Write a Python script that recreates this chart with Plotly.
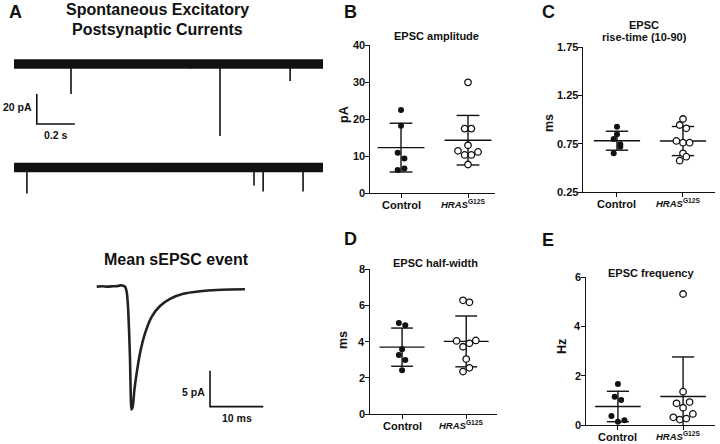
import numpy as np
import plotly.graph_objects as go

# ---------------- data ----------------
group_labels = ["Control", "<i>HRAS</i><sup>G12S</sup>"]

amp_control = [22.4, 18.2, 10.9, 9.3, 6.2, 6.6]
amp_hras = [29.9, 17.4, 17.4, 12.9, 11.4, 10.3, 10.3, 11.1, 7.7]
rise_control = [0.926, 0.847, 0.798, 0.743, 0.719, 0.650]
rise_hras = [1.005, 0.943, 0.909, 0.778, 0.760, 0.760, 0.650, 0.615, 0.574]
hw_control = [5.02, 4.89, 3.57, 3.26, 2.98, 2.41]
hw_hras = [6.27, 6.16, 4.03, 4.06, 3.90, 3.71, 3.03, 2.34, 2.55]
freq_control = [1.66, 1.15, 1.01, 0.36, 0.13, 0.19]
freq_hras = [5.31, 1.35, 0.88, 0.93, 0.70, 0.45, 0.31, 0.22, 0.26]

amp_ticks = [0, 10, 20, 30, 40]
rise_ticks = [0.25, 0.75, 1.25, 1.75]
hw_ticks = [0, 2, 4, 6, 8]
freq_ticks = [0, 2, 4, 6]

# horizontal scatter offsets (style)
amp_jit_c = [0, 0, -0.05, 0.05, -0.05, 0.05]
amp_jit_h = [0, -0.05, 0.05, 0, -0.15, -0.05, 0.05, 0.15, 0]
rise_jit_c = [0, 0, -0.05, 0.05, 0.05, -0.05]
rise_jit_h = [0, -0.05, 0.05, -0.1, 0, 0.1, 0, 0.05, -0.05]
hw_jit_c = [-0.05, 0.05, 0, -0.05, 0.05, 0]
hw_jit_h = [-0.05, 0.05, -0.15, 0.15, 0.05, -0.05, 0, -0.05, 0.05]
freq_jit_c = [0, -0.05, 0.05, -0.1, 0, 0.1]
freq_jit_h = [0, 0, -0.1, 0.1, 0, 0.15, -0.15, -0.05, 0.05]

# spontaneous EPSC sweeps (s, pA)
sweep_duration = 1.626
sweep1_event_t = [0.300, 0.930, 1.084, 1.453]
sweep1_event_amp = [20.0, 3.0, 48.0, 11.3]
sweep2_event_t = [0.068, 0.740, 1.263, 1.311, 1.521]
sweep2_event_amp = [17.3, 2.5, 12.0, 16.0, 16.0]
sweep2_offset = -69.0
scale1_t, scale1_i, scale1_dt, scale1_di = 0.12, -40.0, 0.2, 20.0

# mean sEPSC event (ms, pA)
event_t = [0, 1, 2, 3, 4, 4.6, 5.0, 5.31, 5.62, 5.87, 6.06, 6.25, 6.37, 6.5,
           6.75, 7.06, 7.5, 8.12, 9.06, 10.3, 11.87, 13.75, 16.25, 19.4, 22.5,
           25.0, 27.8]
event_i = [0, 0.05, 0, 0.05, 0.1, 0.2, 0.1, 0, -0.7, -2.8, -6.0, -10.2, -14.8,
           -17.1, -16.7, -14.4, -12.0, -9.26, -6.5, -4.2, -2.7, -1.7, -1.0,
           -0.65, -0.46, -0.4, -0.37]
scale2_t, scale2_i, scale2_dt, scale2_di = 21.25, -16.7, 10.0, 5.0

W, H = 720, 444
FONT = "Liberation Sans, Arial, sans-serif"
INK = "#111111"


def px(x):
    return x / W


def py(y):
    return 1 - y / H


fig = go.Figure()


def add_group(values, jit, center, filled, xa, ya):
    v = np.array(values, dtype=float)
    m = v.mean()
    s = v.std(ddof=1)
    hw, cw = 0.35, 0.17
    xs = [center - hw, center + hw, None,
          center - cw, center + cw, None,
          center - cw, center + cw, None,
          center, center]
    ys = [m, m, None, m + s, m + s, None, m - s, m - s, None, m - s, m + s]
    fig.add_trace(go.Scatter(x=xs, y=ys, mode="lines", xaxis=xa, yaxis=ya,
                             line=dict(color=INK, width=1.4),
                             hoverinfo="skip", showlegend=False))
    xpts = [center + j for j in jit]
    fig.add_trace(go.Scatter(
        x=xpts, y=values, mode="markers", xaxis=xa, yaxis=ya,
        marker=dict(size=6.5 if not filled else 6,
                    color=INK if filled else "white",
                    line=dict(color=INK, width=1.3 if not filled else 0)),
        showlegend=False, cliponaxis=False))


panels = [
    (amp_control, amp_jit_c, amp_hras, amp_jit_h, "x", "y"),
    (rise_control, rise_jit_c, rise_hras, rise_jit_h, "x2", "y2"),
    (hw_control, hw_jit_c, hw_hras, hw_jit_h, "x3", "y3"),
    (freq_control, freq_jit_c, freq_hras, freq_jit_h, "x4", "y4"),
]
for c, jc, h, jh, xa, ya in panels:
    add_group(c, jc, 1, True, xa, ya)
    add_group(h, jh, 2, False, xa, ya)

# ----- sweeps -----
for base, ts, amps in [(0.0, sweep1_event_t, sweep1_event_amp),
                       (sweep2_offset, sweep2_event_t, sweep2_event_amp)]:
    fig.add_trace(go.Scatter(x=[0, sweep_duration], y=[base, base], mode="lines",
                             xaxis="x5", yaxis="y5",
                             line=dict(color=INK, width=9.5),
                             hoverinfo="skip", showlegend=False))
    xs, ys = [], []
    for t, a in zip(ts, amps):
        xs += [t, t, None]
        ys += [base, base - a, None]
    fig.add_trace(go.Scatter(x=xs, y=ys, mode="lines", xaxis="x5", yaxis="y5",
                             line=dict(color=INK, width=1.6),
                             hoverinfo="skip", showlegend=False))

fig.add_trace(go.Scatter(
    x=[scale1_t, scale1_t, scale1_t + scale1_dt],
    y=[scale1_i + scale1_di, scale1_i, scale1_i],
    mode="lines", xaxis="x5", yaxis="y5",
    line=dict(color=INK, width=1.6), hoverinfo="skip", showlegend=False))

# ----- mean event -----
fig.add_trace(go.Scatter(x=event_t, y=event_i, mode="lines", xaxis="x6", yaxis="y6",
                         line=dict(color="#222222", width=2.6, shape="spline",
                                   smoothing=0.6),
                         hoverinfo="skip", showlegend=False))
fig.add_trace(go.Scatter(
    x=[scale2_t, scale2_t, scale2_t + scale2_dt],
    y=[scale2_i + scale2_di, scale2_i, scale2_i],
    mode="lines", xaxis="x6", yaxis="y6",
    line=dict(color=INK, width=1.6), hoverinfo="skip", showlegend=False))

# ----- axes -----


def cat_axis(domain, rng):
    return dict(domain=domain, range=rng, tickvals=[1, 2], showticklabels=False,
                showline=True, linecolor=INK, linewidth=1.3, ticks="outside",
                ticklen=4, tickwidth=1.3, tickcolor=INK, showgrid=False,
                zeroline=False, fixedrange=True)


def val_axis(domain, rng, tickvals):
    return dict(domain=domain, range=rng, tickvals=tickvals, showline=True,
                showticklabels=False,
                linecolor=INK, linewidth=1.3, ticks="outside", ticklen=4,
                tickwidth=1.3, tickcolor=INK, showgrid=False, zeroline=False,
                fixedrange=True)


hidden = dict(visible=False, showgrid=False, zeroline=False, fixedrange=True)

fig.update_layout(
    width=W, height=H, margin=dict(l=0, r=0, t=0, b=0),
    paper_bgcolor="white", plot_bgcolor="white", showlegend=False,
    xaxis=dict(cat_axis([px(370), px(495)], [0.537, 2.403]), anchor="y"),
    yaxis=dict(val_axis([py(193), py(45)], [0, 40], amp_ticks), anchor="x"),
    xaxis2=dict(cat_axis([px(583), px(715)], [0.485, 2.485]), anchor="y2"),
    yaxis2=dict(val_axis([py(192), py(47)], [0.25, 1.75], rise_ticks), anchor="x2"),
    xaxis3=dict(cat_axis([px(370), px(497)], [0.5, 2.48]), anchor="y3"),
    yaxis3=dict(val_axis([py(414), py(269)], [0, 8], hw_ticks), anchor="x3"),
    xaxis4=dict(cat_axis([px(586), px(715)], [0.51, 2.49]), anchor="y4"),
    yaxis4=dict(val_axis([py(425), py(277)], [0, 6], freq_ticks), anchor="x4"),
    xaxis5=dict(hidden, domain=[px(14), px(323)], range=[0, sweep_duration], anchor="y5"),
    yaxis5=dict(hidden, domain=[py(200), py(40)], range=[-90.67, 16], anchor="x5"),
    xaxis6=dict(hidden, domain=[px(90), px(270)], range=[-1.26, 32.5], anchor="y6"),
    yaxis6=dict(hidden, domain=[py(430), py(270)], range=[-19.96, 2.32], anchor="x6"),
)

ann = []


def note(text, x, y, size, **kw):
    d = dict(text=text, x=x, y=y, xref="paper", yref="paper", showarrow=False,
             font=dict(family=FONT, size=size, color=INK, weight="bold"),
             xanchor="center", yanchor="middle")
    d.update(kw)
    ann.append(d)


# panel letters
for letter, x, y in [("A", 15, 12), ("B", 350, 12), ("C", 548, 12),
                     ("D", 350, 239), ("E", 548, 240)]:
    note(letter, px(x), py(y), 18)

note("Spontaneous Excitatory", px(157), py(10), 16)
note("Postsynaptic Currents", px(157), py(29), 16)
note("Mean sEPSC event", px(176), py(259), 16)

note("EPSC amplitude", px(437), py(36), 11)
note("EPSC", px(644), py(25), 11)
note("rise-time (10-90)", px(644), py(37), 11)
note("EPSC half-width", px(435), py(263), 11)
note("EPSC frequency", px(651), py(273), 11)

note("pA", px(344), py(115), 12.5, textangle=-90)
note("ms", px(549), py(123), 12.5, textangle=-90)
note("ms", px(343), py(340), 12.5, textangle=-90)
note("Hz", px(562), py(347), 12.5, textangle=-90)

# y tick labels, right-aligned against each tick mark
tick_font = dict(family=FONT, size=11, color=INK, weight="bold")
for ya, axis_x, ticks, fmt in [("y", 370, amp_ticks, "{:g}"),
                               ("y2", 583, rise_ticks, "{:.2f}"),
                               ("y3", 370, hw_ticks, "{:g}"),
                               ("y4", 586, freq_ticks, "{:g}")]:
    for t in ticks:
        ann.append(dict(text=fmt.format(t), x=px(axis_x - 4), y=t, xref="paper",
                        yref=ya, showarrow=False, xanchor="right",
                        yanchor="middle", font=tick_font, xshift=1))

# category labels under each x axis
for xa, axis_px in [("x", 193), ("x2", 192), ("x3", 414), ("x4", 425)]:
    ann.append(dict(text=group_labels[0], x=1, y=py(axis_px + 12), xref=xa,
                    yref="paper", showarrow=False, xanchor="center",
                    yanchor="middle",
                    font=dict(family=FONT, size=11, color=INK, weight="bold")))
    ann.append(dict(text=group_labels[1], x=2, y=py(axis_px + 11), xref=xa,
                    yref="paper", showarrow=False, xanchor="center",
                    yanchor="middle", xshift=-5,
                    font=dict(family=FONT, size=9.5, color=INK, weight="bold")))

# scale bar labels (data coordinates of their own axes)
sb_font = dict(family=FONT, size=10.5, color=INK, weight="bold")
ann.append(dict(text="20 pA", x=scale1_t, y=scale1_i + scale1_di / 2 + 1,
                xref="x5", yref="y5", showarrow=False, font=sb_font,
                xanchor="right", yanchor="middle", xshift=-3))
ann.append(dict(text="0.2 s", x=scale1_t + scale1_dt / 2, y=scale1_i,
                xref="x5", yref="y5", showarrow=False, font=sb_font,
                xanchor="center", yanchor="top", yshift=-3))
ann.append(dict(text="5 pA", x=scale2_t, y=scale2_i + scale2_di * 0.4,
                xref="x6", yref="y6", showarrow=False, font=sb_font,
                xanchor="right", yanchor="middle", xshift=-3))
ann.append(dict(text="10 ms", x=scale2_t + scale2_dt / 2, y=scale2_i,
                xref="x6", yref="y6", showarrow=False, font=sb_font,
                xanchor="center", yanchor="top", yshift=-3))

fig.update_layout(annotations=ann)
fig.write_html(
    "out.html",
    config={"displayModeBar": False},
    post_script="document.body.style.margin='0';document.body.style.overflow='hidden';",
)
